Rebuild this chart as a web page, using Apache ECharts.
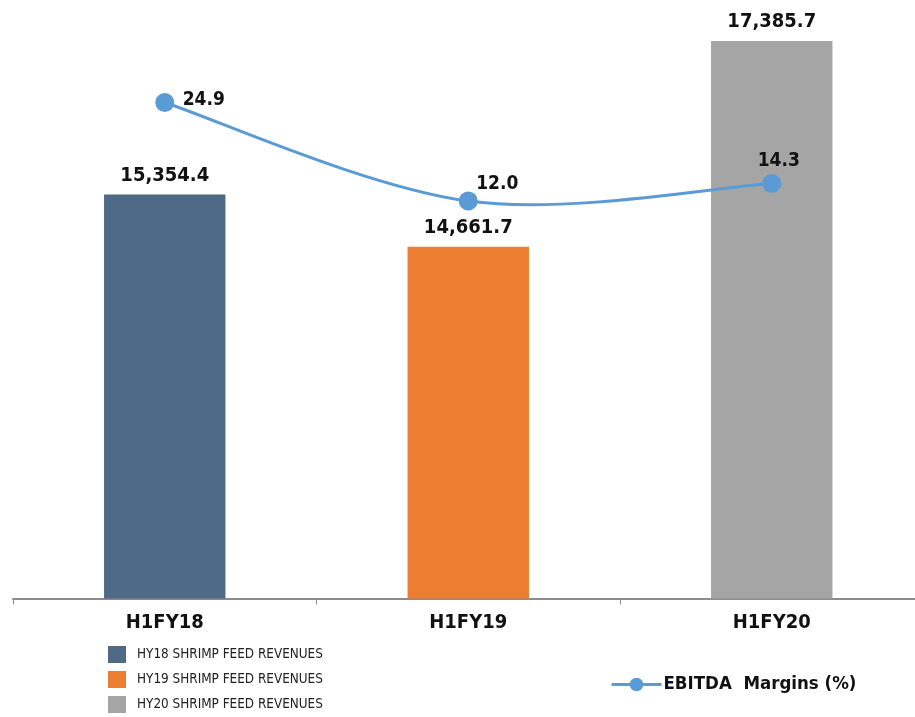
<!DOCTYPE html>
<html>
<head>
<meta charset="utf-8">
<script src="https://cdn.jsdelivr.net/npm/echarts@6/dist/echarts.min.js"></script>
<style>
  html, body { margin: 0; padding: 0; background: #ffffff; }
  #chart { width: 915px; height: 717px; }
</style>
</head>
<body>
<div id="chart"></div>
<script>
// Half-year shrimp feed revenues with EBITDA margin overlay
const categories = ['H1FY18', 'H1FY19', 'H1FY20'];
const revenueSeriesNames = [
  'HY18 SHRIMP FEED REVENUES',
  'HY19 SHRIMP FEED REVENUES',
  'HY20 SHRIMP FEED REVENUES'
];
const revenues = [15354.4, 14661.7, 17385.7];
const marginSeriesName = 'EBITDA  Margins (%)';
const ebitdaMargins = [24.9, 12.0, 14.3];

const barColors = ['#4e6a86', '#ed7d31', '#a5a5a5'];
const lineColor = '#5b9bd5';
const fontFamily = '"DejaVu Sans Condensed", "DejaVu Sans", sans-serif';

// where each margin label sits relative to its marker
const marginLabelOffsets = [[39, -2], [29, -17], [7, -22]];

const fmtRevenue = v => v.toLocaleString('en-US', { minimumFractionDigits: 1, maximumFractionDigits: 1 });

// one bar series per year so each gets its own legend entry and colour
const barSeries = revenueSeriesNames.map((name, i) => ({
  name: name,
  type: 'bar',
  z: 2,
  barWidth: '40%',
  barGap: '-100%',
  itemStyle: { color: barColors[i] },
  label: {
    show: true,
    position: 'top',
    distance: 9,
    color: '#111',
    fontFamily: fontFamily,
    fontWeight: 'bold',
    fontSize: 20,
    formatter: p => fmtRevenue(p.value)
  },
  data: categories.map((c, j) => (j === i ? revenues[j] : null))
}));

// Cardinal-spline curve through the margin points (tangent = (next - prev) / 6),
// drawn once from the projected coordinates of every point.
const marginCurve = {
  type: 'custom',
  yAxisIndex: 1,
  silent: true,
  z: 4,
  data: ebitdaMargins.map((v, i) => [i, v]),
  renderItem: function (params, api) {
    if (params.dataIndex !== 0) return null;
    const pts = ebitdaMargins.map((v, i) => api.coord([i, v]));
    const n = pts.length;
    const at = k => pts[Math.max(0, Math.min(n - 1, k))];
    let d = 'M' + pts[0][0] + ',' + pts[0][1];
    for (let i = 0; i < n - 1; i++) {
      const p0 = at(i - 1), p1 = at(i), p2 = at(i + 1), p3 = at(i + 2);
      const c1x = p1[0] + (p2[0] - p0[0]) / 6;
      const c1y = p1[1] + (p2[1] - p0[1]) / 6;
      const c2x = p2[0] - (p3[0] - p1[0]) / 6;
      const c2y = p2[1] - (p3[1] - p1[1]) / 6;
      d += ' C' + c1x + ',' + c1y + ' ' + c2x + ',' + c2y + ' ' + p2[0] + ',' + p2[1];
    }
    return {
      type: 'path',
      z2: 10,
      shape: { pathData: d },
      style: { fill: null, stroke: lineColor, lineWidth: 3 }
    };
  }
};

// markers, value labels and legend entry for the margins
const marginSeries = {
  name: marginSeriesName,
  type: 'line',
  yAxisIndex: 1,
  z: 5,
  symbol: 'circle',
  symbolSize: 19,
  lineStyle: { color: lineColor, width: 3, opacity: 0 },
  itemStyle: { color: lineColor },
  data: ebitdaMargins.map((v, i) => ({
    value: v,
    label: {
      show: true,
      position: 'inside',
      offset: marginLabelOffsets[i],
      color: '#111',
      fontFamily: fontFamily,
      fontWeight: 'bold',
      fontSize: 19,
      formatter: p => p.value.toFixed(1)
    }
  }))
};

const chart = echarts.init(document.getElementById('chart'), null, { renderer: 'canvas' });
chart.setOption({
  animation: false,
  backgroundColor: '#ffffff',
  grid: {
    left: 13,
    right: -8.5,
    top: -5.3,
    bottom: 118.5,
    containLabel: false,
    outerBoundsMode: 'none'
  },
  legend: [
    {
      data: revenueSeriesNames,
      orient: 'vertical',
      left: 108,
      top: 646,
      padding: 0,
      itemWidth: 18,
      itemHeight: 17,
      itemGap: 8,
      icon: 'rect',
      textStyle: {
        fontFamily: fontFamily,
        fontSize: 13.4,
        color: '#222',
        padding: [0, 0, 0, 6]
      }
    },
    {
      data: [marginSeriesName],
      left: 610,
      top: 675,
      padding: 0,
      itemWidth: 50,
      itemHeight: 17,
      lineStyle: { color: lineColor, width: 3, opacity: 1 },
      textStyle: {
        fontFamily: fontFamily,
        fontSize: 18.5,
        fontWeight: 'bold',
        color: '#111',
        padding: [0, 0, 0, -3]
      }
    }
  ],
  xAxis: {
    type: 'category',
    data: categories,
    axisLine: { show: true, onZero: false, lineStyle: { color: '#8c8c8c', width: 2 } },
    axisTick: { show: true, alignWithLabel: false, length: 6, lineStyle: { color: '#8c8c8c', width: 1 } },
    axisLabel: {
      margin: 14,
      color: '#111',
      fontFamily: fontFamily,
      fontWeight: 'bold',
      fontSize: 20
    }
  },
  yAxis: [
    {
      type: 'value',
      min: 10000,
      max: 18000,
      show: false,
      splitLine: { show: false }
    },
    {
      type: 'value',
      min: -40,
      max: 39,
      show: false,
      splitLine: { show: false }
    }
  ],
  series: [...barSeries, marginCurve, marginSeries]
});
</script>
</body>
</html>
